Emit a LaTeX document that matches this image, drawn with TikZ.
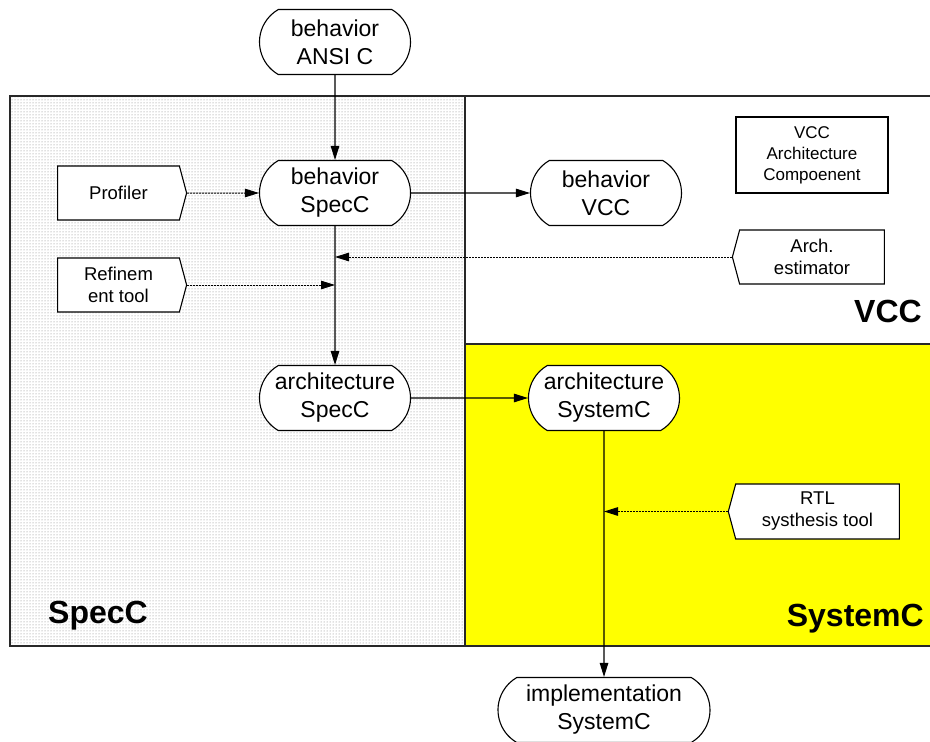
\documentclass[tikz,border=0pt]{standalone}
\usepackage{fontspec}
\setmainfont{Liberation Sans}
\usetikzlibrary{positioning,shapes.misc,shapes.symbols,arrows.meta,patterns}
\definecolor{syscyellow}{RGB}{255,255,0}
\definecolor{framegray}{RGB}{40,40,40}

\begin{document}
\begin{tikzpicture}[x=1pt, y=-1pt, >={Triangle[length=14pt,width=8.5pt]},
  term/.style={draw, line width=1.1pt, fill=white, rounded rectangle, rounded rectangle arc length=120, minimum width=151pt, minimum height=65pt, inner sep=0pt, align=center, font=\fontsize{23}{28}\selectfont},
  toolr/.style={draw, line width=1.1pt, fill=white, signal, signal to=east, signal from=nowhere, signal pointer angle=150, minimum width=129pt, minimum height=54pt, inner sep=0pt, align=center, font=\fontsize{18.5}{22}\selectfont},
  tooll/.style={toolr, signal to=west},
  flow/.style={->, line width=1.1pt},
  hint/.style={->, line width=1pt, dash pattern=on 2pt off 1pt},
  region/.style={font=\bfseries\fontsize{32}{36}\selectfont, inner sep=0pt}]
\useasboundingbox (0,0) rectangle (930,742);
% regions
\fill[white] (0,0) rectangle (930,742);
\fill[pattern=dots, pattern color=gray] (10,96) rectangle (465,646);
\fill[syscyellow] (465,344) rectangle (930,646);
\draw[line width=1.5pt, framegray] (930,96) -- (10,96) -- (10,646) -- (930,646);
\draw[line width=1.3pt, framegray] (465,96) -- (465,646);
\draw[line width=1.3pt, framegray] (465,344) -- (930,344);
\node[region, anchor=base west] (speclbl) at (48,623) {SpecC};
\node[region, anchor=base east] (vcclbl) at (922,322) {VCC};
\node[region, anchor=base east] (sysclbl) at (924,626) {SystemC};

% models
\node[term] (ansi) at (335,42) {behavior\\ANSI C};
\node[term] (bspec) at (335,193) {behavior\\SpecC};
\node[term] (bvcc) at (606,193) {behavior\\VCC};
\node[term] (aspec) at (335,398) {architecture\\SpecC};
\node[term] (asysc) at (604,398) {architecture\\SystemC};
\node[term, minimum width=212pt] (impl) at (604,710) {implementation\\SystemC};

% tools
\node[toolr] (prof) at (118.5,193) {Profiler};
\node[toolr] (refine) at (118.5,285) {Refinem\\ent tool};
\node[tooll, minimum width=152pt] (archest) at (812,257) {Arch.\\estimator};
\node[tooll, minimum width=171pt, minimum height=55pt] (rtl) at (817.5,511.5) {RTL\\systhesis tool};
\node[draw, line width=1.1pt, fill=white, minimum width=152pt, minimum height=76pt, inner sep=0pt, align=center, font=\fontsize{17}{21}\selectfont] (vccarch) at (812,155) {VCC\\Architecture\\Compoenent};

\coordinate (estin) at (335,257);
\coordinate (refin) at (335,285);
\coordinate (rtlin) at (604,511.5);

% connectors
\draw[flow] (ansi) -- (bspec);
\draw[flow] (bspec) -- (bvcc);
\draw[flow] (bspec) -- (aspec);
\draw[flow] (aspec) -- (asysc);
\draw[flow] (asysc) -- (impl);
\draw[hint] (prof) -- (bspec);
\draw[hint] (refine.east) -- (refin);
\draw[hint] (archest.west) -- (estin);
\draw[hint] (rtl.west) -- (rtlin);
\end{tikzpicture}
\end{document}
